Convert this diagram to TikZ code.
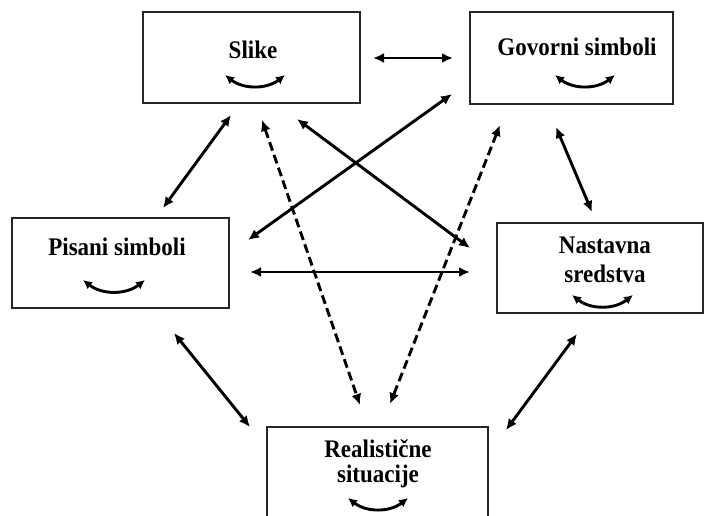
\documentclass[tikz,border=0pt]{standalone}
\usepackage{fontspec}
\setmainfont{Liberation Serif}
\usetikzlibrary{arrows.meta}
\begin{document}
\begin{tikzpicture}[x=1pt,y=-1pt,
  boxstyle/.style={draw=black!85, line width=2.2pt, rectangle, inner sep=0pt},
  lbl/.style={anchor=base, inner sep=0pt, font=\fontsize{23}{27}\selectfont\bfseries, yscale=1.1},
  link/.style={line width=2.9pt, {Latex[length=11pt,width=10pt]}-{Latex[length=11pt,width=10pt]}},
  dlink/.style={link, dash pattern=on 9pt off 4.5pt},
  swing/.style={line width=2.9pt, {Latex[length=9pt,width=9pt]}-{Latex[length=9pt,width=9pt]}}]
\useasboundingbox (0,0) rectangle (705,515);
\fill[white] (0,0) rectangle (705,515);
\clip (0,0) rectangle (705,515);

% boxes
\node[boxstyle, minimum width=217pt, minimum height=91pt] (b1) at (251.5,57.5) {};
\node[boxstyle, minimum width=203pt, minimum height=92pt] (b2) at (571.5,58) {};
\node[boxstyle, minimum width=217pt, minimum height=90pt] (b3) at (120.5,263) {};
\node[boxstyle, minimum width=206pt, minimum height=90pt] (b4) at (600,268) {};
\node[boxstyle, minimum width=221pt, minimum height=110pt] (b5) at (377.5,482) {};

% labels
\node[lbl] (t1) at (253,58) {Slike};
\node[lbl] (t2) at (577,55) {Govorni simboli};
\node[lbl] (t3) at (117,255) {Pisani simboli};
\node[lbl] (t4a) at (605,253) {Nastavna};
\node[lbl] (t4b) at (605,282) {sredstva};
\node[lbl] (t5a) at (378,457) {Realistične};
\node[lbl] (t5b) at (378,482) {situacije};

% swing arrows inside boxes
\coordinate (s1a) at (225,75); \coordinate (s1b) at (285,75);
\coordinate (s2a) at (555,75); \coordinate (s2b) at (615,75);
\coordinate (s3a) at (83,280); \coordinate (s3b) at (145,280);
\coordinate (s4a) at (572,295); \coordinate (s4b) at (633,295);
\coordinate (s5a) at (348,498); \coordinate (s5b) at (408,498);
\draw[swing] (s1a) to[bend right=38] (s1b);
\draw[swing] (s2a) to[bend right=38] (s2b);
\draw[swing] (s3a) to[bend right=38] (s3b);
\draw[swing] (s4a) to[bend right=38] (s4b);
\draw[swing] (s5a) to[bend right=38] (s5b);

% connector ends
\coordinate (p12a) at (373,58);  \coordinate (p12b) at (453,58);
\coordinate (p13a) at (231,115); \coordinate (p13b) at (163,208);
\coordinate (p14a) at (297,119); \coordinate (p14b) at (470,248);
\coordinate (p15a) at (262,120); \coordinate (p15b) at (360,405);
\coordinate (p23a) at (452,94);  \coordinate (p23b) at (248,240);
\coordinate (p24a) at (556,127); \coordinate (p24b) at (592,212);
\coordinate (p25a) at (500,125); \coordinate (p25b) at (390,404);
\coordinate (p34a) at (250,272); \coordinate (p34b) at (470,272);
\coordinate (p35a) at (174,333); \coordinate (p35b) at (250,427);
\coordinate (p45a) at (577,334); \coordinate (p45b) at (506,430);

\draw[link] (p12a) -- (p12b);
\draw[link] (p13a) -- (p13b);
\draw[link] (p14a) -- (p14b);
\draw[dlink] (p15a) -- (p15b);
\draw[link] (p23a) -- (p23b);
\draw[link] (p24a) -- (p24b);
\draw[dlink] (p25a) -- (p25b);
\draw[link] (p34a) -- (p34b);
\draw[link] (p35a) -- (p35b);
\draw[link] (p45a) -- (p45b);
\end{tikzpicture}
\end{document}
